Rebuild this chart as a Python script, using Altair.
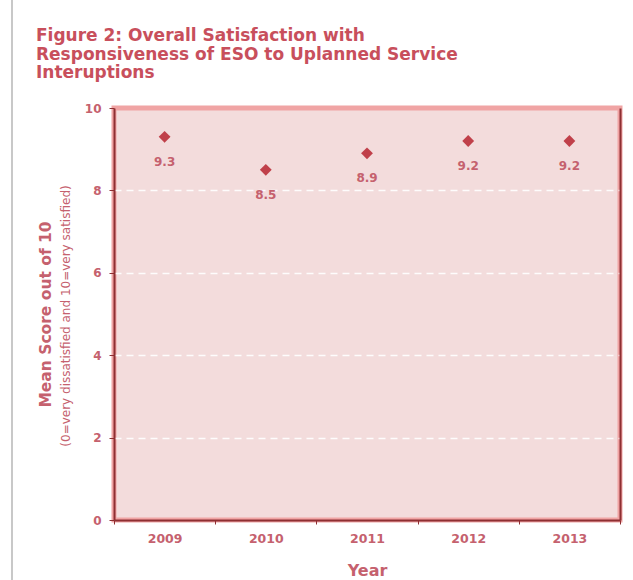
import altair as alt
import pandas as pd

years = ["2009", "2010", "2011", "2012", "2013"]
scores = [9.3, 8.5, 8.9, 9.2, 9.2]
labels = ["9.3", "8.5", "8.9", "9.2", "9.2"]

df = pd.DataFrame({"Year": years, "Score": scores, "Label": labels})

FONT = "DejaVu Sans"
TXT = "#c5616e"
TITLE = "#c84f5c"
DARK = "#8e2f33"

x_enc = alt.X(
    "Year:N",
    sort=years,
    scale=alt.Scale(paddingInner=0, paddingOuter=0),
    axis=alt.Axis(
        title="Year",
        titleFontSize=16,
        titleFont=FONT,
        titleFontWeight="bold",
        titleColor=TXT,
        titlePadding=18,
        labelAngle=0,
        labelFont=FONT,
        labelFontSize=12.5,
        labelFontWeight="bold",
        labelColor=TXT,
        labelPadding=8,
        tickBand="extent",
        tickColor=DARK,
        tickSize=4,
        domainColor=DARK,
        domainWidth=2,
        grid=False,
    ),
)

y_enc = alt.Y(
    "Score:Q",
    scale=alt.Scale(domain=[0, 10]),
    axis=alt.Axis(
        title="Mean Score out of 10",
        titleFont=FONT,
        titleFontSize=15.5,
        titleFontWeight="bold",
        titleColor=TXT,
        titlePadding=31,
        values=[0, 2, 4, 6, 8, 10],
        labelFont=FONT,
        labelFontSize=12,
        labelFontWeight="bold",
        labelColor=TXT,
        labelPadding=8,
        tickColor=DARK,
        tickSize=5,
        domainColor=DARK,
        domainWidth=2,
        gridColor="white",
        gridDash=[7, 5],
        gridWidth=1.5,
        gridOpacity=alt.expr("datum.value > 0 && datum.value < 10 ? 0.9 : 0"),
    ),
)

points = alt.Chart(df).mark_point(
    shape="diamond", filled=True, size=140, color="#c0404a", opacity=1
).encode(x=x_enc, y=y_enc)

texts = alt.Chart(df).mark_text(
    dy=25, font=FONT, fontSize=12, fontWeight="bold", color=TXT, baseline="middle"
).encode(
    x=alt.X("Year:N", sort=years),
    y=alt.Y("Score:Q", axis=None),
    text="Label:N",
)

right = alt.Chart(df).mark_point(opacity=0).encode(
    x=alt.X("Year:N", sort=years),
    y=alt.Y(
        "Score:Q",
        scale=alt.Scale(domain=[0, 10]),
        axis=alt.Axis(
            orient="right", title=None, labels=False, ticks=False,
            domainColor=DARK, domainWidth=2, grid=False,
        ),
    ),
)

subtitle = alt.Chart(df.head(1)).mark_text(
    angle=270, font=FONT, fontSize=12, color=TXT, baseline="middle", align="center"
).encode(
    x=alt.value(-48),
    y=alt.value(208),
    text=alt.value("(0=very dissatisfied and 10=very satisfied)"),
)

page_edge = alt.Chart(df.head(1)).mark_rule(color="#c8c8c8", strokeWidth=2).encode(
    x=alt.value(-102), y=alt.value(-108), y2=alt.value(472)
)

chart = (
    alt.layer(points, texts, right, subtitle, page_edge)
    .resolve_axis(y="independent")
    .properties(
        width=506,
        height=412,
        autosize=alt.AutoSizeParams(type="none"),
        padding={"left": 114, "top": 108, "right": 13, "bottom": 60},
        background="white",
        title=alt.TitleParams(
            text=[
                "Figure 2: Overall Satisfaction with",
                "Responsiveness of ESO to Uplanned Service",
                "Interuptions",
            ],
            anchor="start",
            frame="group",
            dx=-78,
            offset=-83,
            font=FONT,
            fontSize=17,
            fontWeight="bold",
            color=TITLE,
            lineHeight=18.5,
        ),
    )
    .configure_view(fill="#f3dcdc", stroke="#f0a4a4", strokeWidth=5)
)

chart.save("out.html", embed_options={"renderer": "svg", "actions": False})
